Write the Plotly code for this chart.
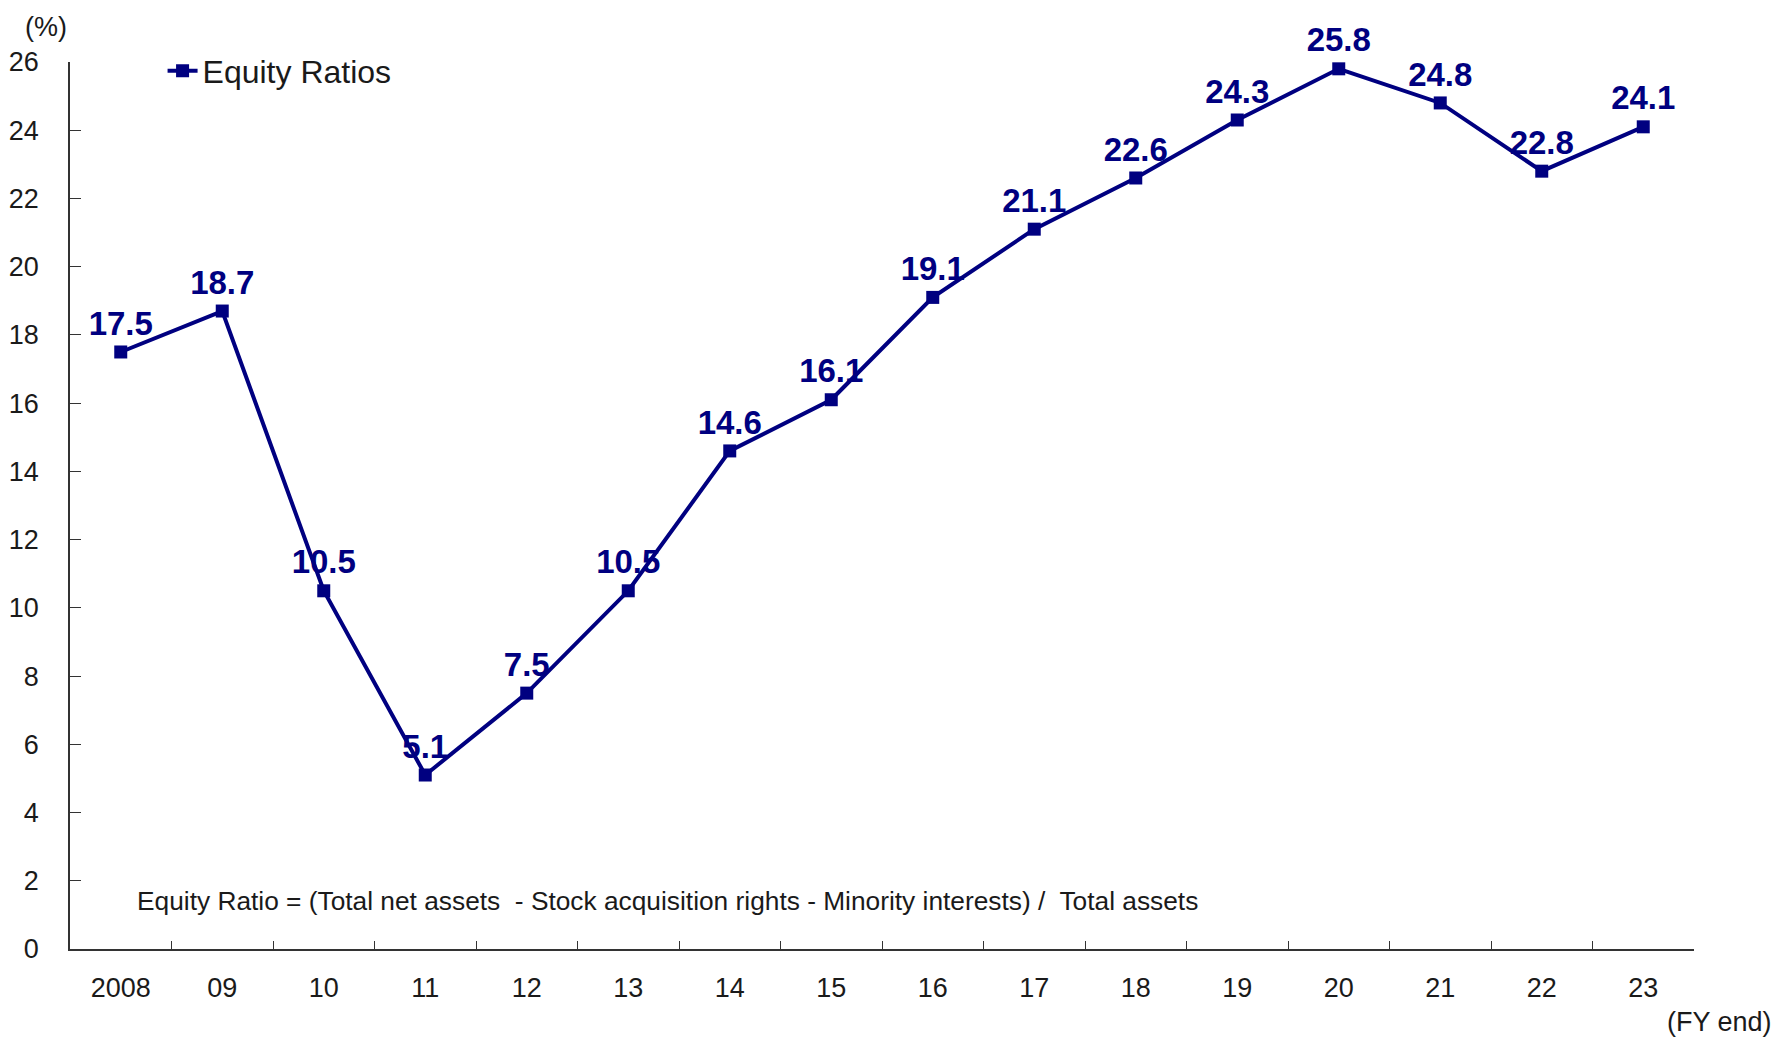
import plotly.graph_objects as go

categories = ["2008", "09", "10", "11", "12", "13", "14", "15", "16", "17", "18", "19", "20", "21", "22", "23"]
equity_ratios = [17.5, 18.7, 10.5, 5.1, 7.5, 10.5, 14.6, 16.1, 19.1, 21.1, 22.6, 24.3, 25.8, 24.8, 22.8, 24.1]
y_ticks = list(range(0, 27, 2))

NAVY = "#000080"
FONT = "Liberation Sans Narrow, Arial Narrow, Liberation Sans, Arial, sans-serif"

fig = go.Figure()
fig.add_trace(go.Scatter(
    x=categories, y=equity_ratios, name="Equity Ratios",
    mode="lines+markers+text",
    line=dict(color=NAVY, width=4),
    marker=dict(symbol="square", size=13, color=NAVY),
    text=[f"{v:.1f}" for v in equity_ratios],
    textposition="top center",
    textfont=dict(family=FONT, size=33, color=NAVY, weight="bold"),
    cliponaxis=False,
))

fig.update_layout(
    width=1777, height=1039,
    margin=dict(l=70, r=83, t=62, b=90),
    paper_bgcolor="white", plot_bgcolor="white",
    font=dict(family=FONT, size=27, color="#1a1a1a"),
    showlegend=True,
    legend=dict(x=0.057, y=0.99, xanchor="left", yanchor="middle",
                bgcolor="rgba(0,0,0,0)", font=dict(size=32, color="#1a1a1a"),
                itemwidth=30),
    xaxis=dict(
        type="category", range=[-0.5, 15.5],
        showline=True, linecolor="#333333", linewidth=1.5,
        ticks="inside", ticklen=8, tickwidth=1.2, tickcolor="#333333",
        tickson="boundaries", showgrid=False, zeroline=False,
        ticklabelstandoff=14, automargin=False,
    ),
    yaxis=dict(
        range=[0, 26], tickvals=y_ticks,
        showline=True, linecolor="#333333", linewidth=1.5,
        ticks="inside", ticklen=11, tickwidth=1.2, tickcolor="#333333",
        showgrid=False, zeroline=False,
        ticklabelstandoff=24, automargin=False,
    ),
    annotations=[
        dict(text="(%)", xref="paper", yref="paper", x=-0.015, y=1.0, yshift=35,
             xanchor="center", yanchor="middle", showarrow=False,
             font=dict(size=27, color="#1a1a1a")),
        dict(text="(FY end)", xref="paper", yref="paper", x=1.0, xshift=80, y=0, yshift=-73,
             xanchor="right", yanchor="middle", showarrow=False,
             font=dict(size=27, color="#1a1a1a")),
        dict(text="Equity Ratio = (Total net assets  - Stock acquisition rights - Minority interests) /  Total assets",
             xref="paper", yref="y", x=0.04, y=1.4,
             xanchor="left", yanchor="middle", showarrow=False,
             font=dict(size=26.3, color="#1a1a1a")),
    ],
)

fig.write_html("out.html")
